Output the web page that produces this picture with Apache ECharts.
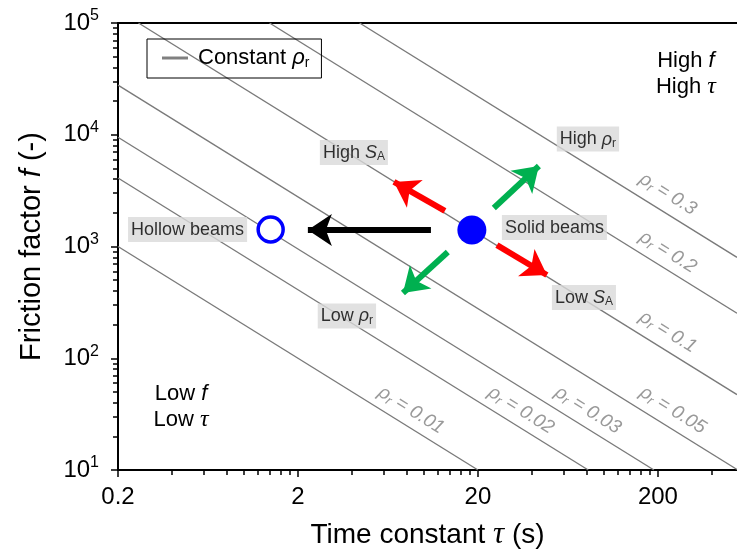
<!DOCTYPE html>
<html>
<head>
<meta charset="utf-8">
<script src="https://cdn.jsdelivr.net/npm/echarts@6/dist/echarts.min.js"></script>
<style>
html, body { margin: 0; padding: 0; background: #fff; }
#main { width: 737px; height: 553px; }
</style>
</head>
<body>
<div id="main"></div>
<script>
// ---- data (tau in s, f dimensionless) ----
var xTickValues = [0.2, 2, 20, 200];
var xTickLabels = ['0.2', '2', '20', '200'];
var xMinorTicks = [0.4, 0.6, 0.8, 1, 1.2, 1.4, 1.6, 1.8,
                   4, 6, 8, 10, 12, 14, 16, 18,
                   40, 60, 80, 100, 120, 140, 160, 180, 400];
var yTickValues = [10, 100, 1000, 10000, 100000];
var yTickExp = ['1', '2', '3', '4', '5'];
var yMinorTicks = [20, 30, 40, 50, 60, 70, 80, 90,
                   200, 300, 400, 500, 600, 700, 800, 900,
                   2000, 3000, 4000, 5000, 6000, 7000, 8000, 9000,
                   20000, 30000, 40000, 50000, 60000, 70000, 80000, 90000];
var tauRange = [0.2, 550];
var fRange = [10, 100000];

// constant rho_r lines, two end points each [tau, f]
var rhoNames = ['0.01', '0.02', '0.03', '0.05', '0.1', '0.2', '0.3'];
var rhoLines = [
    [[0.2, 1000], [20, 10]],
    [[0.2, 4100], [82, 10]],
    [[0.2, 9500], [190, 10]],
    [[0.2, 27750], [550, 10.1]],
    [[0.26, 100000], [550, 47.3]],
    [[1.39, 100000], [550, 253]],
    [[4.4, 100000], [550, 800]]
];
var rhoLabelAt = [[8.5, 34.4], [34.7, 34.4], [81.7, 34.4], [242, 34.4], [227, 172], [227, 893], [227, 2950]];

// beams: hollow, solid
var hollowBeam = [1.41, 1420];
var solidBeam = [18.5, 1405];

// arrows: tail -> tip
var arrowFrom = [[10.96, 1405], [13.1, 2080], [25.5, 1030], [24.5, 2210], [13.6, 893]];
var arrowTo   = [[2.27, 1405], [6.83, 3780], [48.3, 556], [43.6, 5250], [7.66, 384]];
var arrowColors = ['#000000', '#ff0000', '#ff0000', '#00b050', '#00b050'];

// boxed notes
var noteTexts = ['{t|Hollow beams}', '{t|Solid beams}', '{t|High }{i|S}{s|A}',
                 '{t|High }{i|\u03c1}{s|r}', '{t|Low }{i|S}{s|A}', '{t|Low }{i|\u03c1}{s|r}'];
var noteAt = [[0.487, 1419], [53.2, 1479], [4.09, 6940], [81.7, 9160], [77.6, 350], [3.74, 239]];

var cornerTexts = ['{c|High }{ci|f}\n{c|High }{g|\u03c4}', '{c|Low }{ci|f}\n{c|Low }{g|\u03c4}'];
var cornerAt = [[286, 35000], [0.448, 36.6]];

var sans = '"Liberation Sans", Arial, sans-serif';
var serif = '"Liberation Serif", "Times New Roman", serif';

function lg(p) { return [Math.log10(p[0]), Math.log10(p[1])]; }

var series = [];
rhoLines.forEach(function (seg) {
    series.push({
        name: 'Constant \u03c1r',
        type: 'line',
        color: '#808080',
        symbol: 'none',
        lineStyle: { color: '#7a7a7a', width: 1.4 },
        data: seg.map(lg),
        z: 2
    });
});

// invisible anchor points that carry text
function textSeries(points, labelFor, z) {
    return {
        type: 'scatter',
        symbol: 'circle',
        symbolSize: 1,
        silent: true,
        itemStyle: { color: 'rgba(0,0,0,0)' },
        z: z,
        data: points.map(function (p, i) {
            return { value: lg(p), label: labelFor(i) };
        })
    };
}

series.push(textSeries(rhoLabelAt, function (i) {
    return {
        show: true,
        position: 'inside',
        rotate: -32,
        formatter: '{i|\u03c1}{s|r}{i| = ' + rhoNames[i] + '}',
        rich: {
            i: { fontFamily: sans, fontSize: 19, fontStyle: 'italic', color: '#808080', lineHeight: 22 },
            s: { fontFamily: sans, fontSize: 13, fontStyle: 'italic', color: '#808080', lineHeight: 10, verticalAlign: 'bottom' }
        }
    };
}, 3));

series.push({
    type: 'lines',
    coordinateSystem: 'cartesian2d',
    symbol: ['none', 'arrow'],
    symbolSize: 24,
    z: 4,
    data: arrowFrom.map(function (p, i) {
        return {
            coords: [lg(p), lg(arrowTo[i])],
            lineStyle: { color: arrowColors[i], width: 6, opacity: 1 }
        };
    })
});

series.push({
    type: 'scatter',
    z: 5,
    data: [
        { value: lg(hollowBeam), symbolSize: 25, itemStyle: { color: '#ffffff', borderColor: '#0000ff', borderWidth: 3.5, opacity: 1 } },
        { value: lg(solidBeam), symbolSize: 29, itemStyle: { color: '#0000ff', opacity: 1 } }
    ]
});

var boxRich = {
    t: { fontFamily: sans, fontSize: 18, color: '#000', lineHeight: 20 },
    i: { fontFamily: sans, fontSize: 18, fontStyle: 'italic', color: '#000', lineHeight: 20 },
    s: { fontFamily: sans, fontSize: 12, color: '#000', lineHeight: 10, verticalAlign: 'bottom' }
};
series.push(textSeries(noteAt, function (i) {
    return {
        show: true,
        position: 'inside',
        formatter: noteTexts[i],
        backgroundColor: '#d9d9d9',
        padding: [3, 3, 2, 3],
        rich: boxRich
    };
}, 6));

series.push(textSeries(cornerAt, function (i) {
    return {
        show: true,
        position: 'inside',
        align: 'center',
        color: '#000',
        opacity: 1,
        formatter: cornerTexts[i],
        rich: {
            c: { fontFamily: sans, fontSize: 22, color: '#000', lineHeight: 26 },
            ci: { fontFamily: sans, fontSize: 22, fontStyle: 'italic', color: '#000', lineHeight: 26 },
            g: { fontFamily: serif, fontSize: 24, fontStyle: 'italic', color: '#000', lineHeight: 26 }
        }
    };
}, 6));

var xMin = Math.log10(tauRange[0]), xMax = Math.log10(tauRange[1]);
var yMin = Math.log10(fRange[0]), yMax = Math.log10(fRange[1]);

function pick(vals, labels, v) {
    for (var i = 0; i < vals.length; i++) {
        if (Math.abs(Math.log10(vals[i]) - v) < 1e-6) return labels[i];
    }
    return '';
}

var chart = echarts.init(document.getElementById('main'));
chart.setOption({
    animation: false,
    grid: { left: 118, right: 0, top: 23, bottom: 83, containLabel: false, outerBoundsMode: 'none' },
    legend: {
        data: [{ name: 'Constant \u03c1r', icon: 'rect' }],
        left: 147,
        top: 39,
        itemWidth: 26,
        itemHeight: 3,
        padding: [8, 12, 8, 15],
        borderColor: '#000',
        borderWidth: 1,
        borderRadius: 0,
        selectedMode: false,
        formatter: '{t|Constant }{i|\u03c1}{s|r}',
        textStyle: {
            padding: [0, 0, 0, 5],
            rich: {
                t: { fontFamily: sans, fontSize: 22, color: '#000', lineHeight: 24 },
                i: { fontFamily: sans, fontSize: 22, fontStyle: 'italic', color: '#000', lineHeight: 24 },
                s: { fontFamily: sans, fontSize: 14, color: '#000', lineHeight: 12, verticalAlign: 'bottom' }
            }
        }
    },
    xAxis: [
        {
            type: 'value',
            position: 'bottom',
            min: xMin,
            max: xMax,
            splitLine: { show: false },
            axisLine: { onZero: false, lineStyle: { color: '#000', width: 2 } },
            axisTick: {
                customValues: xTickValues.map(Math.log10),
                length: 7,
                lineStyle: { color: '#000', width: 1.5 }
            },
            axisLabel: {
                customValues: xTickValues.map(Math.log10),
                margin: 15,
                color: '#000',
                fontFamily: sans,
                fontSize: 24,
                formatter: function (v) { return pick(xTickValues, xTickLabels, v); }
            },
            name: '{t|Time constant }{g|\u03c4}{t| (s)}',
            nameLocation: 'middle',
            nameGap: 49,
            nameTextStyle: {
                rich: {
                    t: { fontFamily: sans, fontSize: 28, color: '#000', lineHeight: 32 },
                    g: { fontFamily: serif, fontSize: 31, fontStyle: 'italic', color: '#000', lineHeight: 32 }
                }
            }
        },
        {
            type: 'value',
            position: 'bottom',
            min: xMin,
            max: xMax,
            splitLine: { show: false },
            axisLine: { show: false, onZero: false },
            axisTick: {
                customValues: xMinorTicks.map(Math.log10),
                length: 5,
                lineStyle: { color: '#000', width: 1.5 }
            },
            axisLabel: { show: false }
        },
        {
            type: 'value',
            position: 'top',
            min: xMin,
            max: xMax,
            splitLine: { show: false },
            axisLine: { onZero: false, lineStyle: { color: '#000', width: 2 } },
            axisTick: { show: false },
            axisLabel: { show: false }
        }
    ],
    yAxis: [
        {
            type: 'value',
            position: 'left',
            min: yMin,
            max: yMax,
            splitLine: { show: false },
            axisLine: { onZero: false, lineStyle: { color: '#000', width: 2 } },
            axisTick: {
                customValues: yTickValues.map(Math.log10),
                length: 7,
                lineStyle: { color: '#000', width: 1.5 }
            },
            axisLabel: {
                customValues: yTickValues.map(Math.log10),
                margin: 19,
                formatter: function (v) {
                    return '{b|10}{e|' + pick(yTickValues, yTickExp, v) + '}';
                },
                rich: {
                    b: { fontFamily: sans, fontSize: 24, color: '#000', lineHeight: 30 },
                    e: { fontFamily: sans, fontSize: 16, color: '#000', lineHeight: 12, verticalAlign: 'top' }
                }
            },
            name: '{t|Friction factor }{i|f}{t| (-)}',
            nameLocation: 'middle',
            nameGap: 70,
            nameTextStyle: {
                rich: {
                    t: { fontFamily: sans, fontSize: 29, color: '#000', lineHeight: 32 },
                    i: { fontFamily: sans, fontSize: 29, fontStyle: 'italic', color: '#000', lineHeight: 32 }
                }
            }
        },
        {
            type: 'value',
            position: 'left',
            min: yMin,
            max: yMax,
            splitLine: { show: false },
            axisLine: { show: false, onZero: false },
            axisTick: {
                customValues: yMinorTicks.map(Math.log10),
                length: 5,
                lineStyle: { color: '#000', width: 1.5 }
            },
            axisLabel: { show: false }
        }
    ],
    series: series
});
</script>
</body>
</html>
